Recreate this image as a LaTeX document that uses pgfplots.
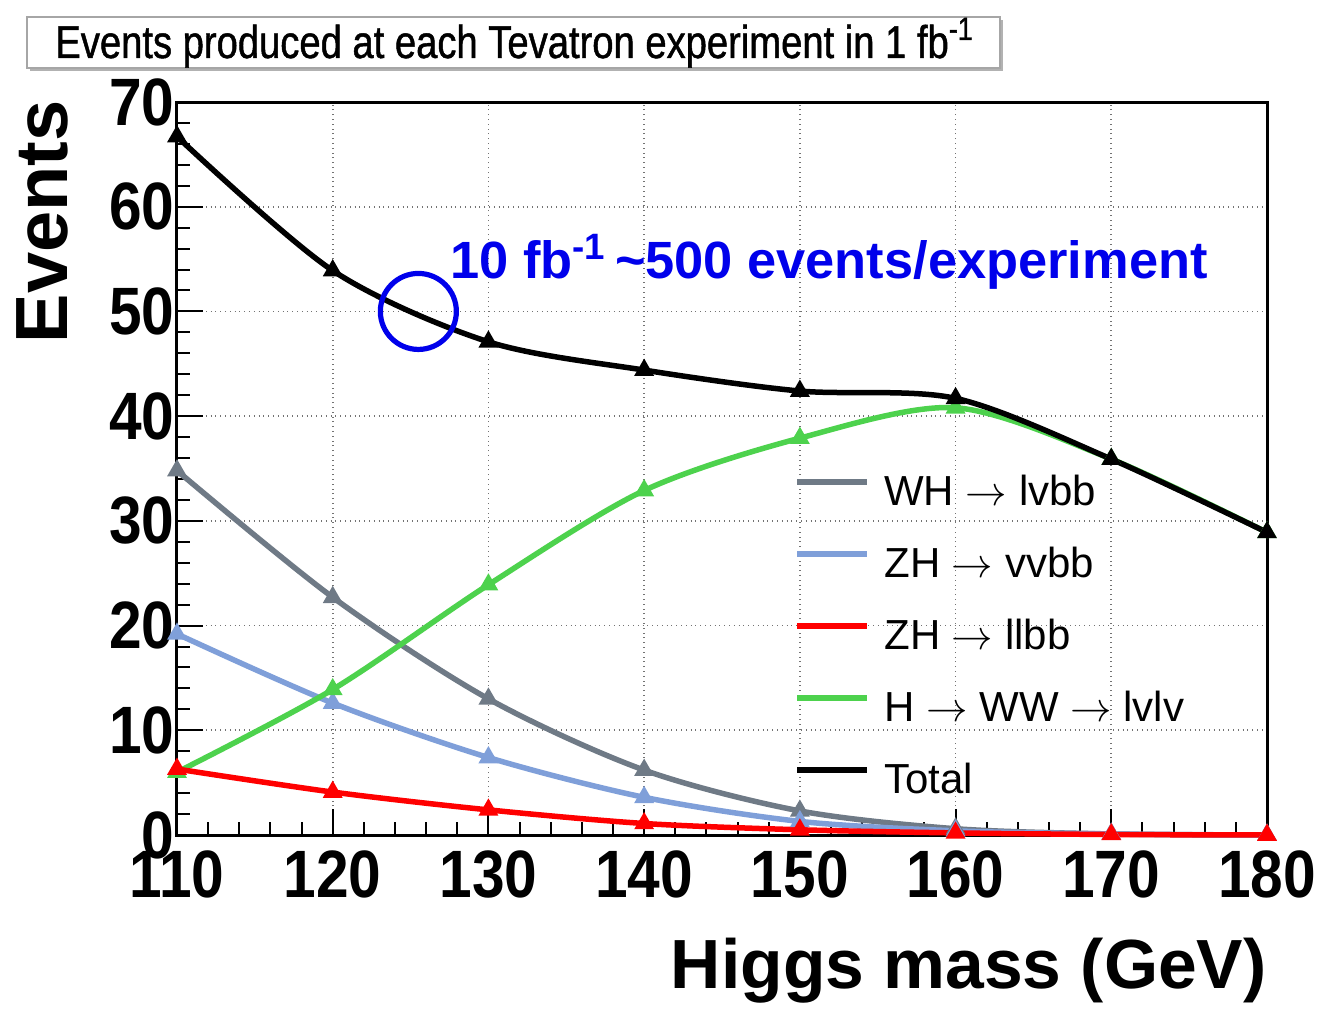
\documentclass[border=0pt]{standalone}
\usepackage{fontspec}
\setmainfont{Liberation Sans}
\newfontfamily\tickfont[FakeStretch=0.875]{Liberation Sans}
\newfontfamily\titlefont[FakeStretch=0.83, FakeBold=1]{Liberation Sans}
\usepackage{pgfplots}
\pgfplotsset{compat=1.18}

\definecolor{whgray}{RGB}{111,122,134}
\definecolor{zhblue}{RGB}{127,159,217}
\definecolor{zhred}{RGB}{255,0,0}
\definecolor{hwwgreen}{RGB}{77,210,77}
\definecolor{notebLue}{RGB}{0,0,235}

\begin{document}
\begin{tikzpicture}
\begin{axis}[
  at={(0pt,0pt)}, anchor=south west,
  scale only axis, width=545pt, height=366.5pt,
  xmin=110, xmax=180, ymin=0, ymax=70,
  xtick={110,120,...,180}, ytick={0,10,...,70},
  minor x tick num=4, minor y tick num=4,
  tick align=inside, tick pos=left,
  major tick length=13pt, minor tick length=6.5pt,
  grid=major,
  major grid style={black!55, dotted, line width=0.9pt},
  axis line style={line width=1.5pt},
  every tick/.style={black, line width=1pt},
  /pgf/number format/assume math mode=true,
  ticklabel style={font=\tickfont\bfseries\fontsize{33.5}{34}\selectfont},
  xticklabel style={anchor=north, inner sep=0pt, yshift=-7.5pt},
  yticklabel style={anchor=east, inner sep=0pt, xshift=-1pt},
  clip=false,
  legend style={draw=none, fill=none, at={(rel axis cs:0.566,0.4925)}, anchor=north west,
    font=\fontsize{21}{21}\selectfont, row sep=16pt, column sep=7pt, inner sep=0pt,
    nodes={text height=15.5pt, text depth=4.5pt, inner sep=0pt}},
  legend cell align=left,
  every axis plot/.append style={line width=2.75pt, smooth, mark=triangle*, mark size=3pt},
]
% legend entries, in the order they are listed
\addlegendimage{legend image code/.code={\draw[whgray, line width=3pt] (0pt,6pt) -- (35pt,6pt);}}
\addlegendentry{WH $\rightarrow$ lvbb}
\addlegendimage{legend image code/.code={\draw[zhblue, line width=3pt] (0pt,6pt) -- (35pt,6pt);}}
\addlegendentry{ZH $\rightarrow$ vvbb}
\addlegendimage{legend image code/.code={\draw[zhred, line width=3pt] (0pt,6pt) -- (35pt,6pt);}}
\addlegendentry{ZH $\rightarrow$ llbb}
\addlegendimage{legend image code/.code={\draw[hwwgreen, line width=3pt] (0pt,6pt) -- (35pt,6pt);}}
\addlegendentry{H $\rightarrow$ WW $\rightarrow$ lvlv}
\addlegendimage{legend image code/.code={\draw[black, line width=3pt] (0pt,6pt) -- (35pt,6pt);}}
\addlegendentry{Total}

% WH -> lvbb
\addplot[whgray, forget plot] coordinates {
  (110,34.8) (120,22.7) (130,13.0) (140,6.2) (150,2.3) (160,0.6) (170,0.1) (180,0.0)};
% ZH -> vvbb
\addplot[zhblue, forget plot] coordinates {
  (110,19.2) (120,12.6) (130,7.4) (140,3.6) (150,1.3) (160,0.4) (170,0.1) (180,0.0)};
% H -> WW -> lvlv
\addplot[hwwgreen, forget plot] coordinates {
  (110,6.0) (120,13.9) (130,23.9) (140,32.9) (150,37.9) (160,40.8) (170,35.9) (180,28.9)};
% ZH -> llbb
\addplot[zhred, forget plot] coordinates {
  (110,6.3) (120,4.1) (130,2.4) (140,1.1) (150,0.5) (160,0.2) (170,0.05) (180,0.0)};
% Total
\addplot[black, forget plot] coordinates {
  (110,66.7) (120,53.9) (130,47.1) (140,44.4) (150,42.4) (160,41.7) (170,35.9) (180,28.9)};

% marker around 125 GeV
\draw[notebLue, line width=2.6pt] (axis cs:125.5,50) circle[radius=19pt];
\end{axis}

% title box
\fill[gray!60] (-73.5pt,382pt) rectangle (413pt,407.5pt);
\filldraw[fill=white, draw=gray!70, line width=1.1pt] (-75pt,383.5pt) rectangle (411.5pt,409pt);
\node[anchor=base west, inner sep=0pt, font=\titlefont\fontsize{23}{23}\selectfont]
  at (-61pt,388.5pt) {Events produced at each Tevatron experiment in 1 fb\textsuperscript{-1}};

% annotation
\node[anchor=base west, inner sep=0pt, text=notebLue, font=\bfseries\fontsize{26.2}{26.2}\selectfont]
  at (136.5pt,278.5pt) {10 fb\textsuperscript{-1}\,\textasciitilde500 events/experiment};

% axis titles
\node[rotate=90, anchor=base east, inner sep=0pt, font=\bfseries\fontsize{37}{37}\selectfont]
  at (-54.5pt,367.5pt) {Events};
\node[anchor=base east, inner sep=0pt, font=\bfseries\fontsize{34.8}{34.8}\selectfont]
  at (545pt,-76.5pt) {Higgs mass (GeV)};

\pgfresetboundingbox
\path (-88.5pt,-86.5pt) rectangle (571.5pt,417.5pt);
\end{tikzpicture}
\end{document}
